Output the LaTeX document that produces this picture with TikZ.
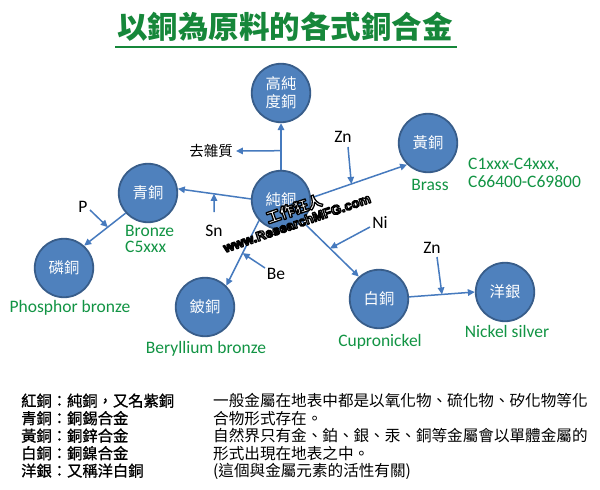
\documentclass[tikz,border=0pt]{standalone}
\usepackage{fontspec}
\setmainfont{Carlito}
\newfontfamily\cjk{Noto Sans CJK TC}
\newfontfamily\cjkfb[FakeBold=1]{Noto Sans CJK TC}
\newfontfamily\wmlat{Liberation Sans}
\usetikzlibrary{arrows.meta,calc}
\definecolor{titlegreen}{RGB}{22,135,58}
\definecolor{labgreen}{RGB}{18,148,68}
\definecolor{cfill}{RGB}{79,129,189}
\definecolor{cborder}{RGB}{56,93,138}
\definecolor{lineblue}{RGB}{70,122,190}
\newcommand\outlinetext[1]{\special{pdf:literal direct 0 0 0 RG 1.3 w 1 j 2 Tr}#1\special{pdf:literal direct 0 Tr}}
\begin{document}
\begin{tikzpicture}[x=1pt,y=-1pt,
  metal/.style={circle,fill=cfill,draw=cborder,line width=1.8pt,minimum size=58.5pt,inner sep=0pt,
    text=white,font=\cjk\fontsize{15.3}{18}\selectfont,align=center},
  conn/.style={draw=lineblue,line width=1.5pt,-{Triangle[length=7pt,width=6.5pt]}},
  elem/.style={font=\fontsize{17.5}{20}\selectfont,text=black,inner sep=0pt,anchor=base},
  glabel/.style={font=\fontsize{17.5}{20}\selectfont,text=labgreen,inner sep=0pt},
  cjklab/.style={font=\cjk\fontsize{14.5}{17}\selectfont,text=black,inner sep=0pt},
  noteL/.style={font=\cjkfb\fontsize{15.3}{17.5}\selectfont,inner sep=0pt,anchor=base west},
  noteR/.style={font=\cjk\fontsize{15.6}{17.5}\selectfont,inner sep=0pt,anchor=base west},
  wm/.style={rotate=19,inner sep=0pt,text=white},
]
\useasboundingbox[fill=white] (0,0) rectangle (600,490);

% title
\node[font=\cjk\bfseries\fontsize{30.5}{34}\selectfont,text=titlegreen] (title) at (285,27) {以銅為原料的各式銅合金};
\draw[titlegreen,line width=2.2pt] (115,47) -- (457,47);

% metals
\node[metal] (gao) at (281,93) {高純\\度銅};
\node[metal] (chun) at (281,200) {純銅};
\node[metal] (qing) at (148,193) {青銅};
\node[metal] (lin) at (64,268) {磷銅};
\node[metal] (pi) at (205,307) {鈹銅};
\node[metal] (huang) at (428,143) {黃銅};
\node[metal] (bai) at (379,299) {白銅};
\node[metal] (yang) at (505,292) {洋銀};

% main connectors
\draw[conn] (chun.north) -- coordinate[pos=0.41] (branch) (gao.south);
\draw[conn] (chun.178) -- coordinate[pos=0.505] (snpt) (qing.8);
\draw[conn] (qing.222) -- coordinate[pos=0.43] (ppt) (lin.48);
\draw[conn] (chun.4) -- coordinate[pos=0.42] (znpt) (huang.226);
\draw[conn] (chun.223) -- coordinate[pos=0.5] (bept) (pi.45);
\draw[conn] (chun.-45) -- coordinate[pos=0.49] (nipt) (bai.132);
\draw[conn] (bai.4) -- coordinate[pos=0.5] (zntwopt) (yang.180);

% impurity removal
\node[cjklab] (qu) at (211,151) {去雜質};
\draw[conn] (branch) -- ([xshift=3pt]qu.east);

% element labels
\node[elem] (zn) at (343,142) {Zn};
\node[elem] (sn) at (214,236) {Sn};
\node[elem] (p) at (83,212) {P};
\node[elem] (ni) at (380,228) {Ni};
\node[elem] (be) at (276,279) {Be};
\node[elem] (zntwo) at (432,253) {Zn};

\coordinate (znfrom) at (348,147);
\coordinate (snfrom) at (214,212);
\coordinate (pfrom) at (90,210);
\coordinate (nifrom) at (370,227);
\coordinate (befrom) at (265,268);
\coordinate (zntwofrom) at (437,257);

\draw[conn] (znfrom) -- (znpt);
\draw[conn] (snfrom) -- (snpt);
\draw[conn] (pfrom) -- (ppt);
\draw[conn] (nifrom) -- (nipt);
\draw[conn] (befrom) -- (bept);
\draw[conn] (zntwofrom) -- (zntwopt);

% green labels
\node[glabel,anchor=base west] (bronze) at (125,236) {Bronze};
\node[glabel,anchor=base west] (cfive) at (125,252.5) {C5xxx};
\node[glabel,anchor=base] (phos) at (70,312) {Phosphor bronze};
\node[glabel,anchor=base] (brass) at (430,190) {Brass};
\node[glabel,anchor=base west] (cone) at (468,169) {C1xxx-C4xxx,};
\node[glabel,anchor=base west] (csix) at (468,187) {C66400-C69800};
\node[glabel,anchor=base] (cupro) at (380,346) {Cupronickel};
\node[glabel,anchor=base] (nick) at (507,337) {Nickel silver};
\node[glabel,anchor=base] (bery) at (206,353) {Beryllium bronze};

% notes
\node[noteL] (la) at (21,406.5) {紅銅：純銅，又名紫銅};
\node[noteL] (lb) at (21,424) {青銅：銅錫合金};
\node[noteL] (lc) at (21,441.5) {黃銅：銅鋅合金};
\node[noteL] (ld) at (21,459) {白銅：銅鎳合金};
\node[noteL] (le) at (21,476.5) {洋銀：又稱洋白銅};
\node[noteR] (ra) at (213,406.5) {一般金屬在地表中都是以氧化物、硫化物、矽化物等化};
\node[noteR] (rb) at (213,424) {合物形式存在。};
\node[noteR] (rc) at (213,441.5) {自然界只有金、鉑、銀、汞、銅等金屬會以單體金屬的};
\node[noteR] (rd) at (213,459) {形式出現在地表之中。};
\node[noteR] (re) at (213,476.5) {(這個與金屬元素的活性有關)};

% watermark
\node[wm,font=\cjk\bfseries\fontsize{14.5}{16}\selectfont] (wmcn) at (294,209) {\outlinetext{工作狂人}};
\node[wm,font=\wmlat\bfseries\fontsize{13.3}{15}\selectfont] (wmen) at (297,223) {\outlinetext{www.ResearchMFG.com}};
\end{tikzpicture}
\end{document}
